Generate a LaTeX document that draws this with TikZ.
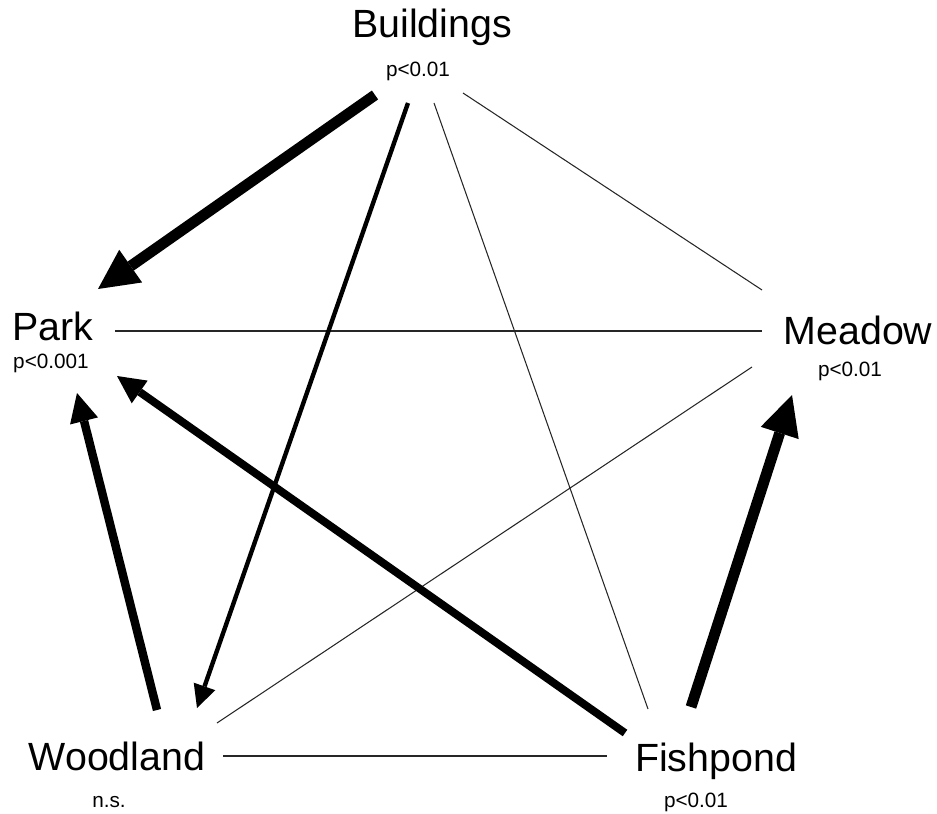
\documentclass[tikz,border=0pt]{standalone}
\usepackage{fontspec}
\setmainfont{Liberation Sans}
\usetikzlibrary{arrows.meta}
\tikzset{
	vname/.style={anchor=base,inner sep=0pt,font=\fontsize{22.4}{26}\selectfont},
	pval/.style={anchor=base,inner sep=0pt,font=\fontsize{11.8}{14}\selectfont},
	tie/.style={line width=#1,draw=black!85},
	lead/.style args={#1/#2}{line width=#1,-{Triangle[length=#2,width=#2,line width=0pt]}}
}
\begin{document}
\begin{tikzpicture}[x=0.02cm,y=-0.02cm]
\useasboundingbox (0,0) rectangle (937,814);
\node[vname] (bld) at (432,38) {Buildings};
\node[vname] (park) at (53,340) {Park};
\node[vname] (mead) at (858,345) {Meadow};
\node[vname] (wood) at (117,770) {Woodland};
\node[vname] (fish) at (716,771) {Fishpond};
\node[pval] (bld-p) at (418,77) {p<0.01};
\node[pval] (park-p) at (51,369) {p<0.001};
\node[pval] (mead-p) at (850,377) {p<0.01};
\node[pval] (wood-p) at (109,807) {n.s.};
\node[pval] (fish-p) at (696,807) {p<0.01};
\foreach \n/\x/\y in {bp/375/95,bw/408/103,bf/434/103,bm/463/93,
	pb/98/289,pm/115/331,pf/117/376,pw/77/393,
	mb/762/290,mp/762/331,mw/752/367,mf/792/395,
	wp/157/710,wb/197/708,wm/217/723,wf/223/756,
	fp/625/733,fw/607/756,fb/648/709,fm/691/707}
	\coordinate (\n) at (\x,\y);
\draw[tie=0.6pt] (bm) -- (mb) (bf) -- (fb) (wm) -- (mw);
\draw[tie=0.8pt] (pm) -- (mp);
\draw[tie=0.9pt] (wf) -- (fw);
\draw[lead=2.5pt/13pt] (bw) -- (wb);
\draw[lead=4.8pt/16.4pt] (wp) -- (pw);
\draw[lead=4.5pt/15.8pt] (fp) -- (pf);
\draw[lead=6.2pt/22.7pt] (bp) -- (pb);
\draw[lead=6.2pt/22.7pt] (fm) -- (mf);
\end{tikzpicture}
\end{document}
